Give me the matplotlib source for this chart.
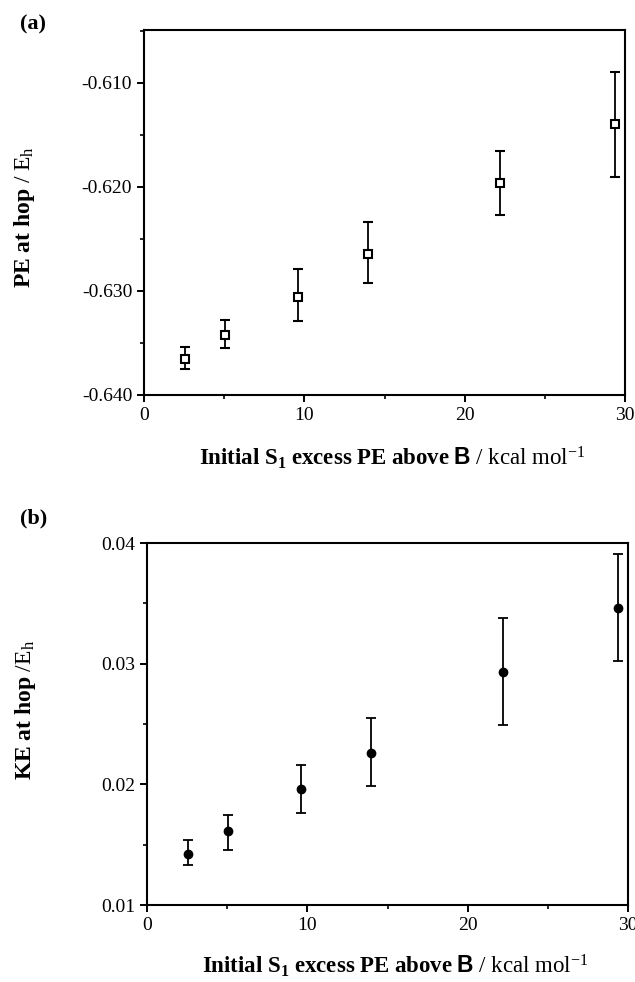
import matplotlib
matplotlib.use("Agg")
import matplotlib.pyplot as plt
from matplotlib.ticker import MultipleLocator, FormatStrFormatter

# initial S1 excess PE above B (kcal/mol)
excess = [2.55, 5.05, 9.6, 14.0, 22.2, 29.35]

# (a) PE at hop (Eh), with lower / upper ends of the error bars
pe = [-0.6365, -0.6342, -0.6306, -0.6264, -0.6196, -0.6139]
pe_lo = [-0.6375, -0.6355, -0.6329, -0.6292, -0.6227, -0.6190]
pe_hi = [-0.6354, -0.6328, -0.6279, -0.6234, -0.6165, -0.6089]

# (b) KE at hop (Eh)
ke = [0.0142, 0.0161, 0.0196, 0.0226, 0.0293, 0.0346]
ke_lo = [0.0133, 0.0146, 0.0176, 0.0199, 0.0249, 0.0302]
ke_hi = [0.0154, 0.0175, 0.0216, 0.0255, 0.0338, 0.0391]

plt.rcParams["font.family"] = ["Liberation Serif", "DejaVu Serif"]
plt.rcParams["mathtext.fontset"] = "custom"
plt.rcParams["mathtext.rm"] = "Liberation Serif"
plt.rcParams["mathtext.it"] = "Liberation Serif:italic"
plt.rcParams["mathtext.bf"] = "Liberation Serif:bold"
plt.rcParams["mathtext.sf"] = "Liberation Sans:bold"

XLABEL = (r"$\mathbf{Initial\ S_1\ excess\ PE\ above\ }\mathsf{B}"
          r"\ \mathrm{/\ kcal\ mol^{-1}}$")


def style_axes(ax, label_y):
    for sp in ax.spines.values():
        sp.set_linewidth(1.5)
    ax.set_xlim(0, 30)
    ax.xaxis.set_major_locator(MultipleLocator(10))
    ax.xaxis.set_minor_locator(MultipleLocator(5))
    ax.tick_params(which="major", direction="out", length=5, width=1.4,
                   labelsize=14, top=False, right=False)
    ax.tick_params(which="minor", direction="out", length=3, width=1.2,
                   top=False, right=False)
    ax.set_xlabel(XLABEL, fontsize=16.5)
    ax.xaxis.set_label_coords(0.515, label_y)


def errs(mid, lo, hi):
    return [[m - l for m, l in zip(mid, lo)], [h - m for m, h in zip(mid, hi)]]


fig = plt.figure(figsize=(6.35, 9.82), dpi=100)

ax1 = fig.add_axes([0.2268, 0.5978, 0.7575, 0.3717])
ax1.errorbar(excess, pe, yerr=errs(pe, pe_lo, pe_hi), fmt="s", ms=6,
             mfc="white", mec="black", mew=1.5, ecolor="black",
             elinewidth=1.3, capsize=3.5, capthick=1.3)
ax1.plot(excess, pe, ".", color="black", ms=1.8)
ax1.set_ylim(-0.640, -0.6049)
ax1.yaxis.set_major_locator(MultipleLocator(0.01))
ax1.yaxis.set_minor_locator(MultipleLocator(0.005))
ax1.yaxis.set_major_formatter(FormatStrFormatter("%.3f"))
style_axes(ax1, -0.135)
ax1.set_ylabel(r"$\mathbf{PE\ at\ hop}\ \mathrm{/\ E_h}$", fontsize=17)
ax1.yaxis.set_label_coords(-0.222, 0.488)
fig.text(0.031, 0.985, "(a)", fontsize=16, fontweight="bold", va="top")

ax2 = fig.add_axes([0.2315, 0.0784, 0.7575, 0.3686])
ax2.errorbar(excess, ke, yerr=errs(ke, ke_lo, ke_hi), fmt="o", ms=6,
             mfc="black", mec="black", ecolor="black",
             elinewidth=1.3, capsize=3.5, capthick=1.3)
ax2.set_ylim(0.01, 0.04)
ax2.yaxis.set_major_locator(MultipleLocator(0.01))
ax2.yaxis.set_minor_locator(MultipleLocator(0.005))
ax2.yaxis.set_major_formatter(FormatStrFormatter("%.2f"))
style_axes(ax2, -0.132)
ax2.set_ylabel(r"$\mathbf{KE\ at\ hop}\ \mathrm{/E_h}$", fontsize=17)
ax2.yaxis.set_label_coords(-0.227, 0.539)
fig.text(0.031, 0.4827, "(b)", fontsize=16, fontweight="bold", va="top")

fig.savefig("out.png", dpi=100)
